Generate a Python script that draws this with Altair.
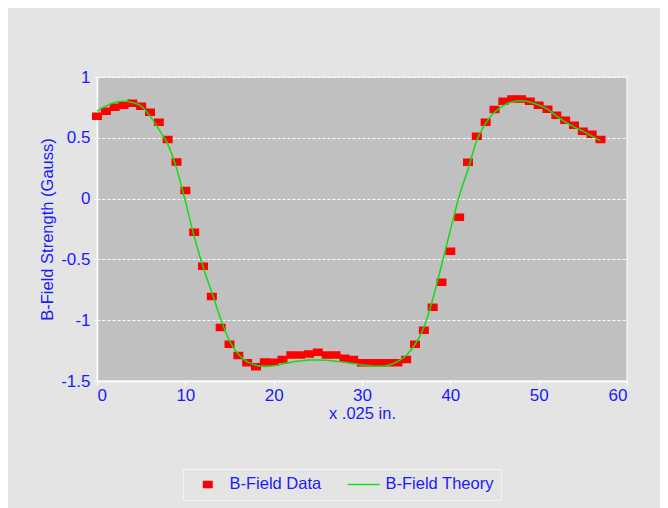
import altair as alt
import pandas as pd

# ---- data ----
x_data = list(range(58))
y_data = [0.677, 0.718, 0.751, 0.767, 0.784, 0.759, 0.71, 0.627, 0.485, 0.30,
          0.066, -0.277, -0.557, -0.806, -1.061, -1.198, -1.291, -1.349, -1.382, -1.343,
          -1.346, -1.324, -1.286, -1.286, -1.277, -1.264, -1.286, -1.286, -1.313, -1.324,
          -1.349, -1.349, -1.349, -1.349, -1.349, -1.324, -1.198, -1.083, -0.894, -0.688,
          -0.433, -0.154, 0.299, 0.512, 0.627, 0.732, 0.80, 0.82, 0.82, 0.80,
          0.767, 0.734, 0.685, 0.644, 0.603, 0.553, 0.529, 0.485]

x_theory = list(range(58))
y_theory = [0.72, 0.76, 0.79, 0.80, 0.79, 0.76, 0.68, 0.57, 0.45, 0.25,
            -0.02, -0.31, -0.56, -0.77, -0.99, -1.17, -1.28, -1.34, -1.37, -1.38,
            -1.375, -1.36, -1.345, -1.335, -1.327, -1.327, -1.33, -1.337, -1.345, -1.357,
            -1.368, -1.376, -1.378, -1.37, -1.34, -1.29, -1.20, -1.06, -0.83, -0.55,
            -0.26, 0.02, 0.24, 0.48, 0.62, 0.71, 0.765, 0.795, 0.805, 0.795,
            0.77, 0.735, 0.68, 0.63, 0.59, 0.555, 0.515, 0.475]

series_names = ["B-Field Data", "B-Field Theory"]
series_colors = ["#ff0000", "#11dd11"]
x_ticks = [0, 10, 20, 30, 40, 50, 60]
y_ticks = [-1.5, -1, -0.5, 0, 0.5, 1]

df_data = pd.DataFrame({"x": x_data, "y": y_data, "series": series_names[0]})
df_theory = pd.DataFrame({"x": x_theory, "y": y_theory, "series": series_names[1]})

blue = "#1a1aff"
font = "Liberation Sans"
# symbol paths (unit coords, scaled by sqrt(size)/2 = 4)
rect_path = "M-1.06,-0.75H1.06V0.75H-1.06Z"
line_path = "M-4,0H4"
sym_size = 64

legend = alt.Legend(
    title=None, orient="none", legendX=86, legendY=392,
    direction="horizontal", columns=2,
    symbolOffset=9.5, labelOffset=13.5, columnPadding=22, padding=7,
    strokeColor="#f4f4f4", fillColor="#e4e4e4",
    labelFont=font, labelFontSize=16.5, labelColor=blue, labelLimit=300,
    symbolStrokeWidth=1.5, symbolOpacity=1, symbolSize=sym_size,
)

color = alt.Color("series:N", scale=alt.Scale(domain=series_names, range=series_colors),
                  legend=legend)
stroke = alt.Stroke("series:N", scale=alt.Scale(domain=series_names, range=series_colors),
                    legend=legend)
shape = alt.Shape("series:N", scale=alt.Scale(domain=series_names, range=[rect_path, line_path]),
                  legend=legend)

x_enc = alt.X(
    "x:Q",
    scale=alt.Scale(domain=[0, 60], nice=False, zero=False),
    axis=alt.Axis(
        values=x_ticks, title="x .025 in.", grid=False,
        domainColor="white", domainWidth=1.5, tickColor="white", tickSize=4,
        labelPadding=2, labelFont=font, labelFontSize=17, labelColor=blue,
        titleFont=font, titleFontSize=16.5, titleFontWeight="normal", titleColor=blue,
        titleY=24, titleBaseline="top",
    ),
)

y_enc = alt.Y(
    "y:Q",
    scale=alt.Scale(domain=[-1.5, 1], nice=False, zero=False),
    axis=alt.Axis(
        values=y_ticks, labelExpr="datum.value + ''",
        title="B-Field Strength (Gauss)", grid=True,
        gridColor="white", gridDash=[3, 2], gridWidth=1,
        domainColor="white", domainWidth=1.5, tickColor="white", tickSize=3,
        labelPadding=4, labelFont=font, labelFontSize=17, labelColor=blue,
        titleFont=font, titleFontSize=16.5, titleFontWeight="normal", titleColor=blue,
        titleX=-42, titleY=152, titleBaseline="bottom", titleAngle=270,
    ),
)

points = alt.Chart(df_data).mark_point(
    filled=True, opacity=1, strokeWidth=1.5, size=sym_size
).encode(x=x_enc, y=y_enc, color=color, stroke=stroke, shape=shape)

line = alt.Chart(df_theory).mark_line(
    interpolate="monotone", strokeWidth=1.5
).encode(x=x_enc, y=y_enc, color=color)

chart = alt.layer(points, line).properties(
    width=530, height=304,
    autosize=alt.AutoSizeParams(type="none"),
    padding={"left": 89, "top": 69, "right": 33, "bottom": 127},
    background="#e4e4e4",
).configure_view(
    fill="#c0c0c0", stroke="#f0f0f0", strokeWidth=1.5
)

chart.save("out.html", embed_options={"renderer": "svg", "actions": False})
